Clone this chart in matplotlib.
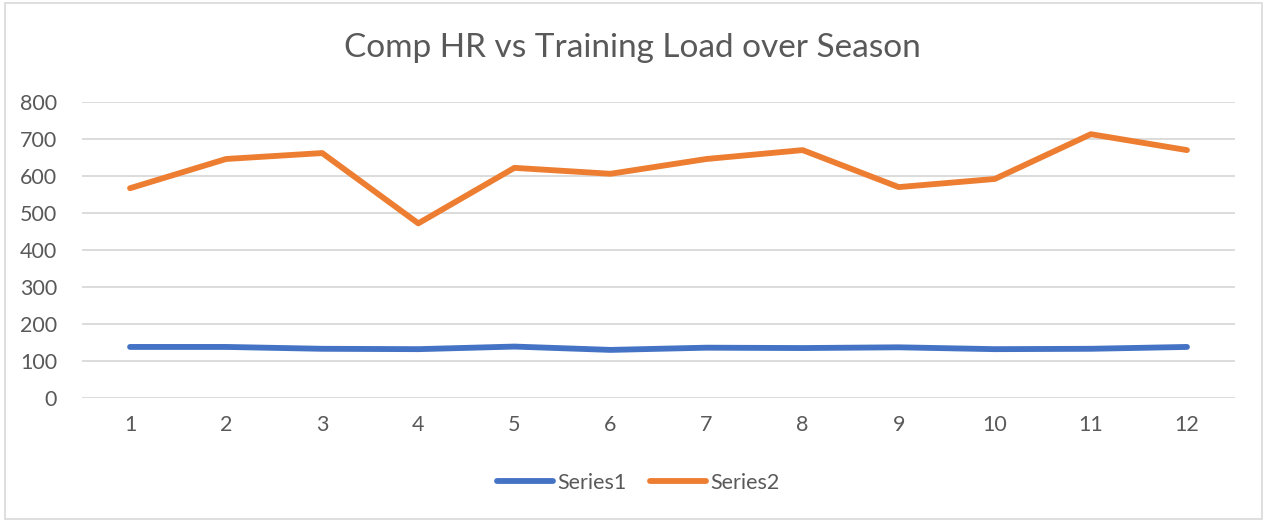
import matplotlib.pyplot as plt
from matplotlib.patches import Rectangle

# monthly values
months = [1, 2, 3, 4, 5, 6, 7, 8, 9, 10, 11, 12]
series1 = [138, 138, 133, 132, 139, 130, 136, 135, 137, 132, 133, 138]
series2 = [567, 646, 662, 472, 622, 606, 646, 670, 570, 592, 713, 670]
yticks = [0, 100, 200, 300, 400, 500, 600, 700, 800]

BLUE = '#4472C4'
ORANGE = '#ED7D31'
GRID = '#D9D9D9'
TEXT = '#595959'

plt.rcParams['font.family'] = ['Lato', 'DejaVu Sans']

fig = plt.figure(figsize=(12.65, 5.21), dpi=100)
# outer chart border
fig.patches.append(Rectangle((5 / 1265, 2 / 521), 1257 / 1265, 516 / 521,
                             transform=fig.transFigure, fill=False,
                             edgecolor=GRID, linewidth=1.2))

ax = fig.add_axes([82 / 1265, 1 - 398 / 521, (1235 - 82) / 1265, (398 - 102) / 521])

ax.plot(months, series1, color=BLUE, lw=4.2, solid_capstyle='round',
        solid_joinstyle='round', label='Series1')
ax.plot(months, series2, color=ORANGE, lw=4.2, solid_capstyle='round',
        solid_joinstyle='round', label='Series2')

ax.set_xlim(0.5, 12.5)
ax.set_ylim(0, 800)
ax.set_xticks(months)
ax.set_yticks(yticks)
ax.grid(axis='y', color=GRID, lw=1.3)
ax.set_axisbelow(True)
for s in ax.spines.values():
    s.set_visible(False)
ax.tick_params(length=0, labelsize=15.5, labelcolor=TEXT)
ax.tick_params(axis='x', pad=12)
ax.tick_params(axis='y', pad=18)

fig.text(0.5, 1 - 48 / 521, 'Comp HR vs Training Load over Season',
         ha='center', va='center', fontsize=24, color=TEXT)

leg = fig.legend(loc='center', bbox_to_anchor=(638 / 1265, 1 - 483 / 521),
                 ncol=2, frameon=False, fontsize=15.5, handlelength=2.6,
                 handletextpad=0.2, columnspacing=1.1)
for t in leg.get_texts():
    t.set_color(TEXT)

fig.savefig('out.png', dpi=100)
